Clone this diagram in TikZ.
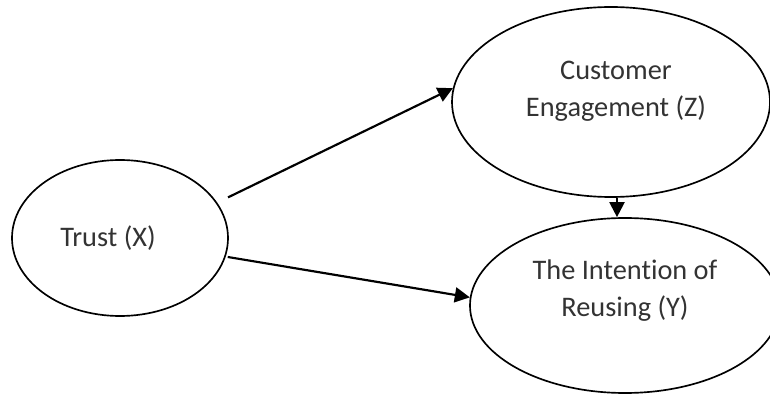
\documentclass[tikz,border=0pt]{standalone}
\usepackage{fontspec}
\setmainfont[Ligatures=NoCommon]{Carlito}
\usetikzlibrary{arrows.meta,shapes.geometric}

\begin{document}
\begin{tikzpicture}[x=0.3mm,y=-0.3mm,
  var/.style={draw,ellipse,line width=0.5mm,inner sep=0pt},
  txt/.style={text=black!80,align=center,font=\fontsize{24.2}{31.3}\selectfont},
  arr/.style={line width=0.65mm,-{Triangle[length=4.5mm,width=4.5mm]}}]
\useasboundingbox (0,0) rectangle (770,394);
\clip (0,0) rectangle (770,394);
\node[var,minimum width=64.8mm,minimum height=46.8mm,
  label={[txt,xshift=-3.6mm]center:Trust (X)}] (x) at (120,238) {};
\node[var,minimum width=95.4mm,minimum height=57mm,
  label={[txt,xshift=1.5mm,yshift=3.3mm]center:Customer\\Engagement (Z)}] (z) at (611,102) {};
\node[var,minimum width=93mm,minimum height=52.5mm,
  label={[txt,yshift=4.5mm]center:The Intention of\\Reusing (Y)}] (y) at (625,305.5) {};
\draw[arr,shorten <=3.6mm] (x.20.4) -- (z.175);
\draw[arr,shorten <=0.6mm] (x.-10) -- (y.177);
\draw[arr] ([xshift=1.8mm]z.south) -- ([xshift=1.8mm]z.south |- y.north);
\end{tikzpicture}
\end{document}
